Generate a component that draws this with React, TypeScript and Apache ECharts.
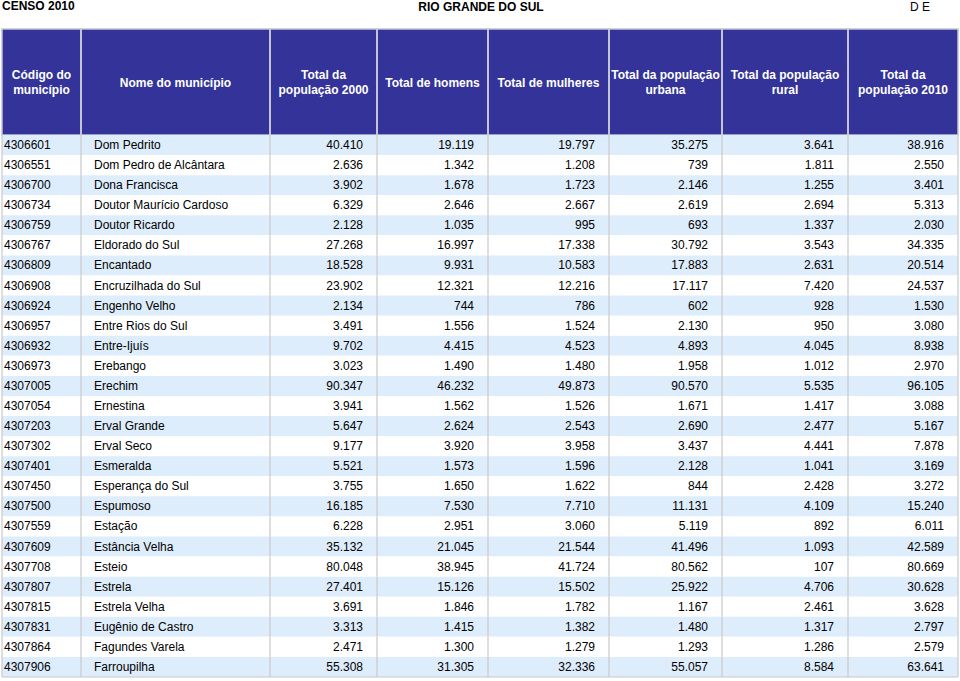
import React, { useEffect, useRef } from "react";
import * as echarts from "echarts";

const titleLeft = "CENSO 2010";
const titleCenter = "RIO GRANDE DO SUL";
const titleRight = "D E";

const headers = [
  "Código do\nmunicípio",
  "Nome do município",
  "Total da\npopulação 2000",
  "Total de homens",
  "Total de mulheres",
  "Total da população\nurbana",
  "Total da população\nrural",
  "Total da\npopulação 2010",
];

const codes = [
  "4306601", "4306551", "4306700", "4306734", "4306759", "4306767", "4306809", "4306908", "4306924",
  "4306957", "4306932", "4306973", "4307005", "4307054", "4307203", "4307302", "4307401", "4307450",
  "4307500", "4307559", "4307609", "4307708", "4307807", "4307815", "4307831", "4307864", "4307906",
];

const names = [
  "Dom Pedrito", "Dom Pedro de Alcântara", "Dona Francisca", "Doutor Maurício Cardoso", "Doutor Ricardo",
  "Eldorado do Sul", "Encantado", "Encruzilhada do Sul", "Engenho Velho", "Entre Rios do Sul", "Entre-Ijuís",
  "Erebango", "Erechim", "Ernestina", "Erval Grande", "Erval Seco", "Esmeralda", "Esperança do Sul",
  "Espumoso", "Estação", "Estância Velha", "Esteio", "Estrela", "Estrela Velha", "Eugênio de Castro",
  "Fagundes Varela", "Farroupilha",
];

const pop2000 = [
  40410, 2636, 3902, 6329, 2128, 27268, 18528, 23902, 2134, 3491, 9702, 3023, 90347, 3941, 5647, 9177,
  5521, 3755, 16185, 6228, 35132, 80048, 27401, 3691, 3313, 2471, 55308,
];
const men = [
  19119, 1342, 1678, 2646, 1035, 16997, 9931, 12321, 744, 1556, 4415, 1490, 46232, 1562, 2624, 3920,
  1573, 1650, 7530, 2951, 21045, 38945, 15126, 1846, 1415, 1300, 31305,
];
const women = [
  19797, 1208, 1723, 2667, 995, 17338, 10583, 12216, 786, 1524, 4523, 1480, 49873, 1526, 2543, 3958,
  1596, 1622, 7710, 3060, 21544, 41724, 15502, 1782, 1382, 1279, 32336,
];
const urban = [
  35275, 739, 2146, 2619, 693, 30792, 17883, 17117, 602, 2130, 4893, 1958, 90570, 1671, 2690, 3437,
  2128, 844, 11131, 5119, 41496, 80562, 25922, 1167, 1480, 1293, 55057,
];
const rural = [
  3641, 1811, 1255, 2694, 1337, 3543, 2631, 7420, 928, 950, 4045, 1012, 5535, 1417, 2477, 4441,
  1041, 2428, 4109, 892, 1093, 107, 4706, 2461, 1317, 1286, 8584,
];
const pop2010 = [
  38916, 2550, 3401, 5313, 2030, 34335, 20514, 24537, 1530, 3080, 8938, 2970, 96105, 3088, 5167, 7878,
  3169, 3272, 15240, 6011, 42589, 80669, 30628, 3628, 2797, 2579, 63641,
];

// layout (relative column edges in px, grid starts at x=2)
const EDGES = [0, 79, 268, 375, 486, 607, 720, 846, 956];
const GRID_LEFT = 2;
const HEAD_TOP = 29;
const BODY_TOP = 135;
const BODY_H = 542;
const FONT = "'Liberation Sans', Arial, Helvetica, sans-serif";

function fmt(n: number): string {
  return String(n).replace(/\B(?=(\d{3})+(?!\d))/g, ".");
}

export default function App() {
  const ref = useRef<HTMLDivElement>(null);

  useEffect(() => {
    document.body.style.margin = "0";
    if (!ref.current) return;
    const chart = echarts.init(ref.current, null, { renderer: "svg" });

    const numericCols = [pop2000, men, women, urban, rural, pop2010];

    const graphics: any[] = [
      { type: "text", left: 2, top: 0, style: { text: titleLeft, font: `bold 12px ${FONT}`, fill: "#000" } },
      {
        type: "text",
        x: 481,
        y: 7,
        style: { text: titleCenter, font: `bold 12px ${FONT}`, fill: "#000", textAlign: "center", textVerticalAlign: "middle" },
      },
      {
        type: "text",
        x: 910,
        y: 7,
        style: { text: titleRight, font: `12px ${FONT}`, fill: "#000", textAlign: "left", textVerticalAlign: "middle" },
      },
      {
        type: "rect",
        shape: { x: GRID_LEFT, y: HEAD_TOP, width: EDGES[EDGES.length - 1], height: BODY_TOP - HEAD_TOP },
        style: { fill: "#333399", stroke: "#c4c4d4", lineWidth: 1.5 },
      },
    ];
    for (let i = 1; i < EDGES.length - 1; i++) {
      graphics.push({
        type: "line",
        shape: { x1: GRID_LEFT + EDGES[i], y1: HEAD_TOP, x2: GRID_LEFT + EDGES[i], y2: BODY_TOP },
        style: { stroke: "#c4c4d4", lineWidth: 2 },
      });
    }
    headers.forEach((h, i) => {
      graphics.push({
        type: "text",
        x: GRID_LEFT + (EDGES[i] + EDGES[i + 1]) / 2,
        y: 82.5,
        style: {
          text: h,
          font: `bold 12px ${FONT}`,
          fill: "#ffffff",
          textAlign: "center",
          textVerticalAlign: "middle",
          lineHeight: 15,
        },
      });
    });

    const rowIdx = codes.map((_, i) => i);

    chart.setOption({
      animation: false,
      grid: { left: GRID_LEFT, top: BODY_TOP, width: EDGES[EDGES.length - 1], height: BODY_H },
      xAxis: { type: "value", min: 0, max: EDGES[EDGES.length - 1], show: false },
      yAxis: { type: "category", data: codes, inverse: true, show: false },
      graphic: graphics,
      series: [
        {
          type: "custom",
          data: rowIdx.map((r) => [0, r]),
          renderItem: (params: any, api: any) => {
            const r = api.value(1) as number;
            const yc = api.coord([0, r])[1];
            const h = api.size([0, 1])[1];
            const top = yc - h / 2;
            const xs = EDGES.map((e) => api.coord([e, r])[0]);
            const children: any[] = [];
            children.push({
              type: "rect",
              shape: { x: xs[0], y: top, width: xs[xs.length - 1] - xs[0], height: h },
              style: { fill: r % 2 === 0 ? "#deedfb" : "#ffffff" },
            });
            for (let i = 0; i < xs.length; i++) {
              children.push({
                type: "line",
                shape: { x1: xs[i], y1: top, x2: xs[i], y2: top + h },
                style: { stroke: "#c8c8c8", lineWidth: 1.2 },
              });
            }
            if (r === codes.length - 1) {
              children.push({
                type: "line",
                shape: { x1: xs[0], y1: top + h, x2: xs[xs.length - 1], y2: top + h },
                style: { stroke: "#c8c8c8", lineWidth: 1.2 },
              });
            }
            const textStyle = (text: string, x: number, align: string) => ({
              type: "text",
              x,
              y: yc,
              style: {
                text,
                font: `12px ${FONT}`,
                fill: "#000",
                textAlign: align,
                textVerticalAlign: "middle",
              },
            });
            children.push(textStyle(codes[r], xs[0] + 2, "left"));
            children.push(textStyle(names[r], xs[1] + 13, "left"));
            numericCols.forEach((col, ci) => {
              children.push(textStyle(fmt(col[r]), xs[ci + 3] - 14, "right"));
            });
            return { type: "group", children };
          },
        },
      ],
    });

    return () => chart.dispose();
  }, []);

  return <div ref={ref} style={{ width: 960, height: 681 }} />;
}
